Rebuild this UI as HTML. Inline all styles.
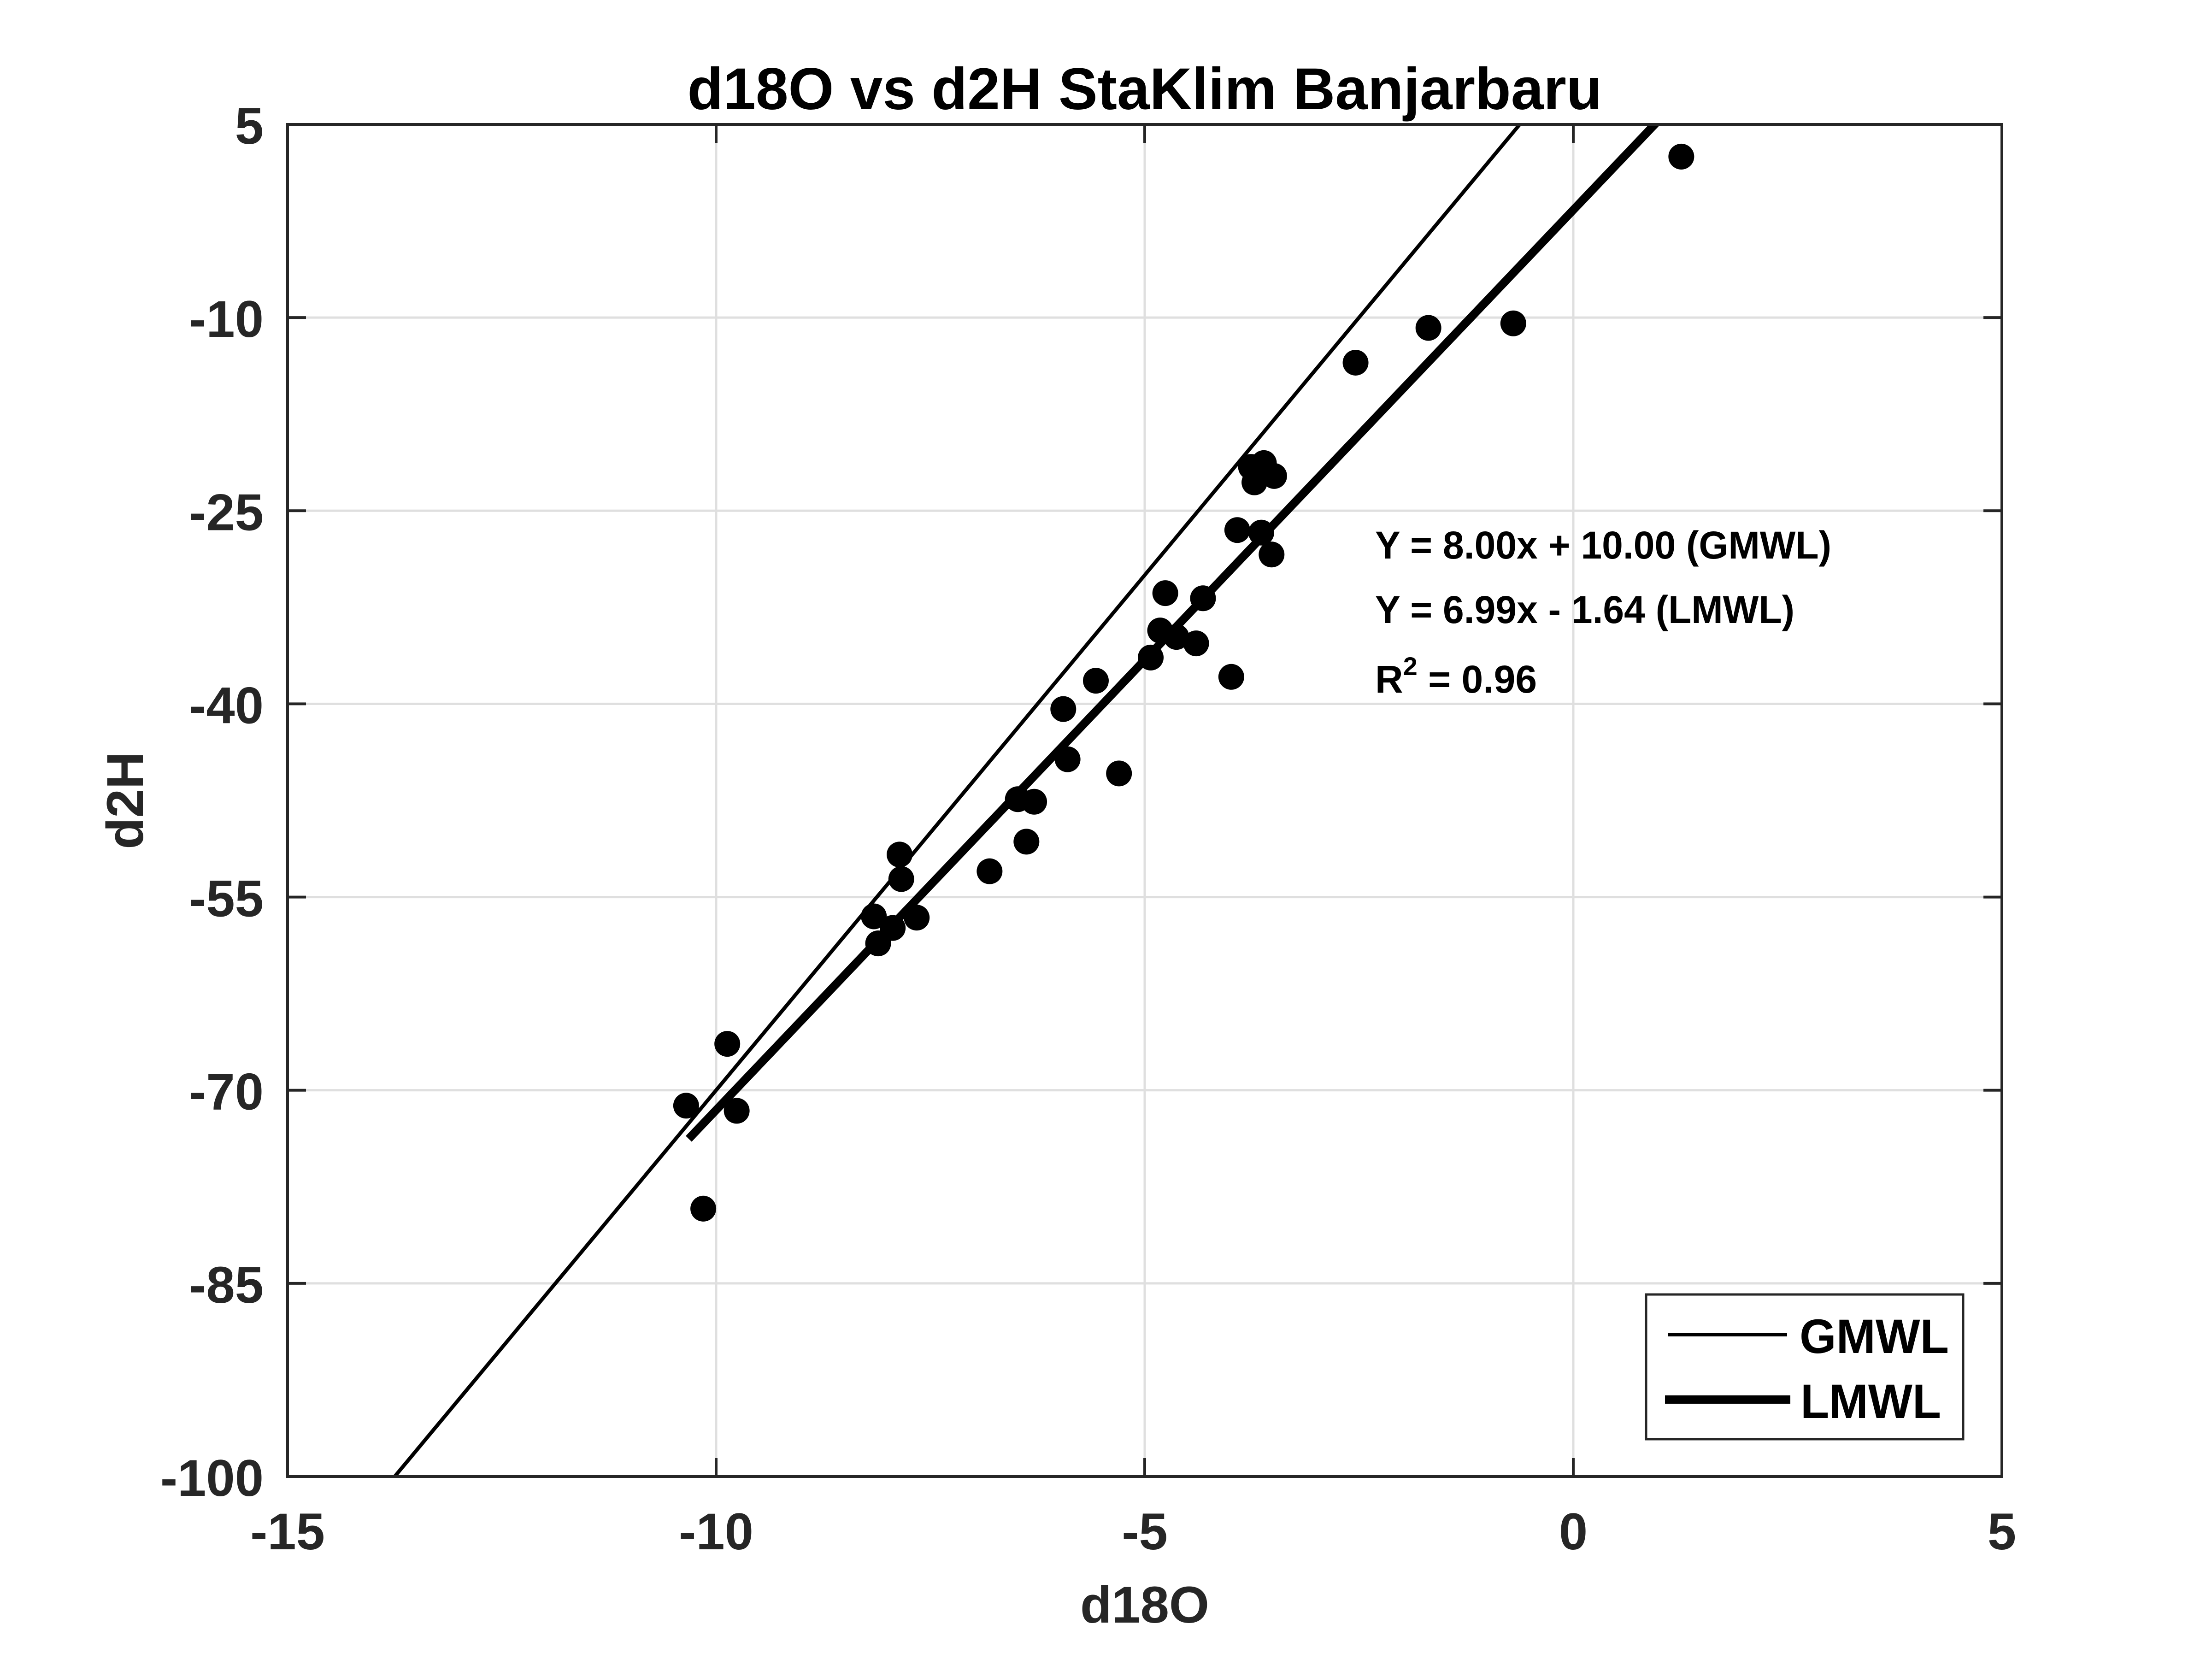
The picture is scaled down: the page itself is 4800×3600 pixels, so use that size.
<!DOCTYPE html>
<html><head><meta charset="utf-8"><style>
html,body{margin:0;padding:0;background:#fff}
svg{display:block}
text{font-family:"Liberation Sans",Arial,sans-serif;font-weight:bold}
</style></head><body>
<svg id="chart" width="4800" height="3600" viewBox="0 0 4800 3600" xmlns="http://www.w3.org/2000/svg">
<defs><clipPath id="plotclip"><rect x="624" y="270" width="3720" height="2934"/></clipPath></defs>
<rect x="0" y="0" width="4800" height="3600" fill="#fff"/>
<rect x="624" y="270" width="3720" height="2934" fill="#fff"/>
<g id="grid"></g>
<g id="lines" clip-path="url(#plotclip)"></g>
<g id="points" clip-path="url(#plotclip)"></g>
<g id="axes"></g>
<text x="2484" y="237" font-size="128" text-anchor="middle" textLength="1985" lengthAdjust="spacingAndGlyphs" fill="#000">d18O vs d2H StaKlim Banjarbaru</text>
<text x="2484" y="3521" font-size="112" text-anchor="middle" fill="#262626">d18O</text>
<text x="0" y="0" font-size="112" text-anchor="middle" fill="#262626" transform="translate(310,1737) rotate(-90)">d2H</text>
<g>
<text x="2984" y="1212" font-size="84" textLength="990" lengthAdjust="spacingAndGlyphs" fill="#000">Y = 8.00x + 10.00 (GMWL)</text>
<text x="2984" y="1352" font-size="84" textLength="910" lengthAdjust="spacingAndGlyphs" fill="#000">Y = 6.99x - 1.64 (LMWL)</text>
<text x="2984" y="1503" font-size="84" fill="#000">R<tspan dy="-38" font-size="56">2</tspan><tspan dy="38"> = 0.96</tspan></text>
</g>
<g>
<rect x="3572" y="2809" width="688" height="314" fill="#fff" stroke="#262626" stroke-width="5"/>
<line x1="3619" y1="2896" x2="3878" y2="2896" stroke="#000" stroke-width="8"/>
<text x="3905" y="2936" font-size="105" textLength="324" lengthAdjust="spacingAndGlyphs" fill="#000">GMWL</text>
<line x1="3613" y1="3037" x2="3885" y2="3037" stroke="#000" stroke-width="18"/>
<text x="3907" y="3077" font-size="105" textLength="305" lengthAdjust="spacingAndGlyphs" fill="#000">LMWL</text>
</g>
</svg>
<script>
const xTicks = [-15, -10, -5, 0, 5];
const yTicks = [5, -10, -25, -40, -55, -70, -85, -100];
const d18O = [1.26,-1.69,-0.70,-2.54,-3.76,-3.61,-3.72,-3.49,-3.92,-3.64,-3.52,-4.76,-4.32,-4.82,-4.63,-4.40,-4.93,-5.57,-3.99,-5.95,-5.90,-5.30,-6.48,-6.29,-6.38,-6.81,-7.86,-7.84,-8.16,-7.94,-7.66,-8.11,-9.87,-10.35,-9.76,-10.15];
const d2H = [2.5,-10.8,-10.45,-13.5,-21.6,-21.3,-22.8,-22.3,-26.5,-26.7,-28.4,-31.4,-31.8,-34.3,-34.8,-35.3,-36.4,-38.2,-37.9,-40.4,-44.3,-45.4,-47.4,-47.6,-50.7,-53.0,-51.7,-53.6,-56.5,-57.4,-56.6,-58.6,-66.4,-71.2,-71.6,-79.2];
const gmwlCoef = [8.00, 10.00];
const lmwlCoef = [6.99, -1.64];
const gmwlRange = [-15, 5];
const lmwlRange = [-10.32, 1.26];

const NS = 'http://www.w3.org/2000/svg';
const X0 = 624, X1 = 4344, Y0 = 270, Y1 = 3204;
const xMin = -15, xMax = 5, yMin = -100, yMax = 5;
function sx(v){ return X0 + (v - xMin) / (xMax - xMin) * (X1 - X0); }
function sy(v){ return Y1 - (v - yMin) / (yMax - yMin) * (Y1 - Y0); }
function mk(tag, attrs, parent){ const e = document.createElementNS(NS, tag); for (const k in attrs) e.setAttribute(k, attrs[k]); parent.appendChild(e); return e; }

const grid = document.getElementById('grid');
const axes = document.getElementById('axes');
xTicks.forEach(function(t){
  const g = mk('line', {x1: sx(t), x2: sx(t), y1: Y0, y2: Y1, stroke: '#dfdfdf', 'stroke-width': 5}, grid);
  
  
  const tk1 = mk('line', {x1: sx(t), x2: sx(t), y1: Y1, y2: Y1 - 40, stroke: '#262626', 'stroke-width': 6}, axes);
  
  
  const tk2 = mk('line', {x1: sx(t), x2: sx(t), y1: Y0, y2: Y0 + 40, stroke: '#262626', 'stroke-width': 6}, axes);
  
  
  const lb = mk('text', {x: sx(t), y: 3362, 'font-size': 112, 'text-anchor': 'middle', fill: '#262626'}, axes);
  lb.textContent = String(t);
  
  
});
yTicks.forEach(function(t){
  const g = mk('line', {x1: X0, x2: X1, y1: sy(t), y2: sy(t), stroke: '#dfdfdf', 'stroke-width': 5}, grid);
  
  
  const tk1 = mk('line', {x1: X0, x2: X0 + 40, y1: sy(t), y2: sy(t), stroke: '#262626', 'stroke-width': 6}, axes);
  
  
  const tk2 = mk('line', {x1: X1, x2: X1 - 40, y1: sy(t), y2: sy(t), stroke: '#262626', 'stroke-width': 6}, axes);
  
  
  const lb = mk('text', {x: 572, y: sy(t) + 42, 'font-size': 112, 'text-anchor': 'end', fill: '#262626'}, axes);
  lb.textContent = String(t);
  
  
});
const frame = mk('rect', {x: X0, y: Y0, width: X1 - X0, height: Y1 - Y0, fill: 'none', stroke: '#262626', 'stroke-width': 6}, axes);



const lines = document.getElementById('lines');
const gl = mk('line', {x1: sx(gmwlRange[0]), y1: sy(gmwlCoef[0]*gmwlRange[0]+gmwlCoef[1]), x2: sx(gmwlRange[1]), y2: sy(gmwlCoef[0]*gmwlRange[1]+gmwlCoef[1]), stroke: '#000', 'stroke-width': 8}, lines);


const ll = mk('line', {x1: sx(lmwlRange[0]), y1: sy(lmwlCoef[0]*lmwlRange[0]+lmwlCoef[1]), x2: sx(lmwlRange[1]), y2: sy(lmwlCoef[0]*lmwlRange[1]+lmwlCoef[1]), stroke: '#000', 'stroke-width': 18}, lines);



const pts = document.getElementById('points');
for (let i = 0; i < d18O.length; i++) {
  const c = mk('circle', {cx: sx(d18O[i]), cy: sy(d2H[i]), r: 28, fill: '#000'}, pts);
  
  
}
</script>
</body></html>
